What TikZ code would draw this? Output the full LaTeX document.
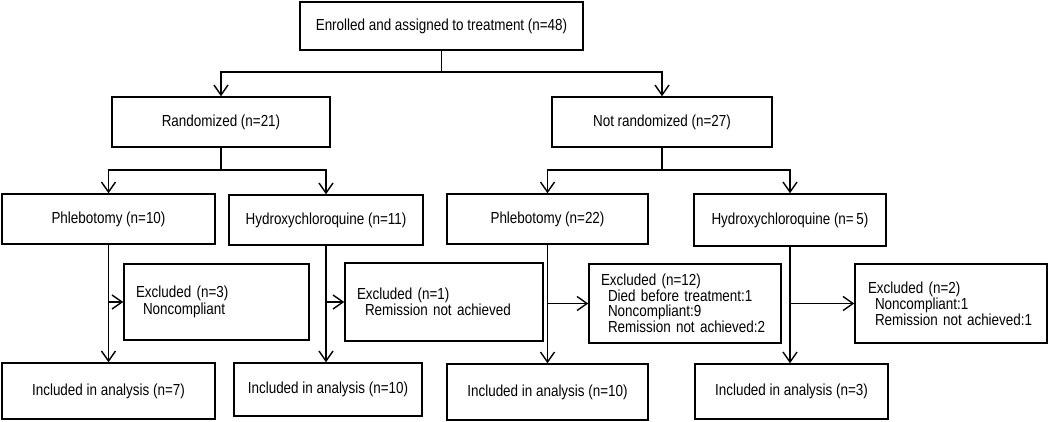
\documentclass[tikz,border=0pt]{standalone}
\usepackage{fontspec}
\setmainfont{Liberation Sans}[FakeStretch=0.84]
\usetikzlibrary{arrows.meta}
\begin{document}
\begin{tikzpicture}[x=1pt,y=-1pt,
  box/.style={draw, line width=1.5pt, rectangle, inner sep=0pt, align=center,
    font=\fontsize{16}{16.5}\selectfont},
  exbox/.style={box, align=left, inner xsep=12pt},
  conn/.style={line width=1.5pt},
  arr/.style={conn, -{Straight Barb[length=10pt,width=14pt,line width=1.4pt]}}]
\useasboundingbox (0,0) rectangle (1050,421);
% boxes
\node[box, minimum width=283, minimum height=48] (top) at (441.5,26) {Enrolled and assigned to treatment (n=48)};
\node[box, minimum width=218, minimum height=50] (rand) at (221,122) {Randomized (n=21)};
\node[box, minimum width=220, minimum height=50] (nrand) at (662,122) {Not randomized (n=27)};
\node[box, minimum width=213, minimum height=50] (p10) at (108.5,219) {Phlebotomy (n=10)};
\node[box, minimum width=194, minimum height=50] (h11) at (326,220) {Hydroxychloroquine (n=11)};
\node[box, minimum width=201, minimum height=50] (p22) at (547.5,219) {Phlebotomy (n=22)};
\node[box, minimum width=192, minimum height=52] (h5) at (790,220) {Hydroxychloroquine (n=\,5)};
\node[exbox, text width=161, minimum height=76] (e3) at (216.5,302) {Excluded (n=3)\\\hspace*{7pt}Noncompliant};
\node[exbox, text width=174, minimum height=78] (e1) at (444,302) {Excluded (n=1)\\\hspace*{8pt}Remission not achieved};
\node[exbox, text width=168, minimum height=79, font=\fontsize{16}{15.5}\selectfont] (e12) at (685,303.5) {Excluded (n=12)\\\hspace*{7pt}Died before treatment:1\\\hspace*{7pt}Noncompliant:9\\\hspace*{7pt}Remission not achieved:2};
\node[exbox, text width=166, inner xsep=13pt, minimum height=79, font=\fontsize{16}{16}\selectfont] (e2) at (951,303.5) {Excluded (n=2)\\\hspace*{7pt}Noncompliant:1\\\hspace*{7pt}Remission not achieved:1};
\node[box, minimum width=213, minimum height=56] (i7) at (108.5,391) {Included in analysis (n=7)};
\node[box, minimum width=188, minimum height=53] (i10a) at (328,389.5) {Included in analysis (n=10)};
\node[box, minimum width=201, minimum height=56] (i10b) at (547.5,392) {Included in analysis (n=10)};
\node[box, minimum width=193, minimum height=55] (i3) at (791.5,391.5) {Included in analysis (n=3)};
% level 1
\coordinate (j0) at (top.south |- 0,72);
\draw[conn] (top.south) -- (j0);
\draw[arr] (j0) -| (rand.north);
\draw[arr] (j0) -| (nrand.north);
% level 2
\coordinate (j1) at (rand.south |- 0,170);
\draw[conn] (rand.south) -- (j1);
\draw[arr] (j1) -| (p10.north);
\draw[arr] (j1) -| (h11.north);
\coordinate (j2) at (nrand.south |- 0,170);
\draw[conn] (nrand.south) -- (j2);
\draw[arr] (j2) -| (p22.north);
\draw[arr] (j2) -| (h5.north);
% level 3
\draw[arr] (p10.south) -- (p10.south |- i7.north);
\draw[arr] (p10.south |- e3.west) -- (e3.west);
\draw[arr] (h11.south) -- (h11.south |- i10a.north);
\draw[arr] (h11.south |- e1.west) -- (e1.west);
\draw[arr] (p22.south) -- (p22.south |- i10b.north);
\draw[arr] (p22.south |- e12.west) -- (e12.west);
\draw[arr] (h5.south) -- (h5.south |- i3.north);
\draw[arr] (h5.south |- e2.west) -- (e2.west);
\end{tikzpicture}
\end{document}
